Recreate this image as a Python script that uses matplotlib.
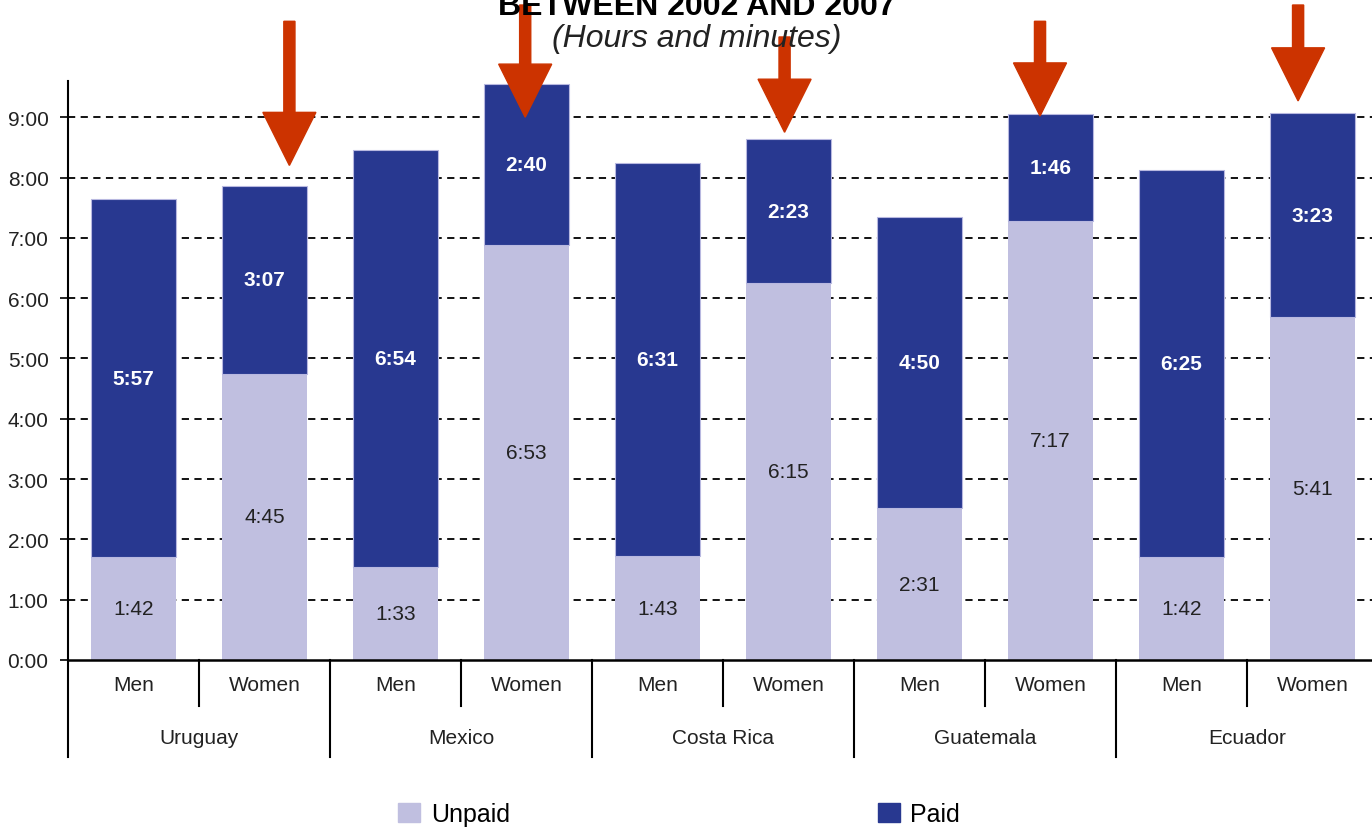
import matplotlib
matplotlib.use("Agg")
import matplotlib.pyplot as plt
import matplotlib.transforms as mtransforms
from matplotlib.patches import Patch
import numpy as np

plt.rcParams['font.family'] = ['Liberation Sans', 'DejaVu Sans']

countries = ['Uruguay', 'Mexico', 'Costa Rica', 'Guatemala', 'Ecuador']
sexes = ['Men', 'Women']

# hours:minutes, order = Men, Women for each country
unpaid = ['1:42', '4:45', '1:33', '6:53', '1:43', '6:15', '2:31', '7:17', '1:42', '5:41']
paid = ['5:57', '3:07', '6:54', '2:40', '6:31', '2:23', '4:50', '1:46', '6:25', '3:23']

y_ticks = ['0:00', '1:00', '2:00', '3:00', '4:00', '5:00', '6:00', '7:00', '8:00', '9:00']

# red arrows over the women bars: tip / tail height (hours) and x shift
arrow_tip = [8.20, 9.00, 8.75, 9.02, 9.27]
arrow_tail = [10.59, 10.86, 10.33, 10.59, 10.86]
arrow_dx = [0.19, -0.01, -0.03, -0.08, -0.11]

UNPAID_C = '#c0bfe0'
PAID_C = '#283890'
ARROW_C = '#cc3300'


def to_hours(s):
    h, m = s.split(':')
    return int(h) + int(m) / 60.0


unpaid_h = np.array([to_hours(s) for s in unpaid])
paid_h = np.array([to_hours(s) for s in paid])
x = np.arange(len(unpaid))

fig = plt.figure(figsize=(13.72, 8.28), dpi=100)
ax = fig.add_axes([68 / 1372, 167 / 828, 1310 / 1372, 579 / 828])

ax.bar(x, unpaid_h, width=0.65, color=UNPAID_C, zorder=2)
ax.bar(x, paid_h, bottom=unpaid_h, width=0.65, color=PAID_C,
       edgecolor='#b8b8e0', linewidth=0.8, zorder=2)

for xi, u, p, us, ps in zip(x, unpaid_h, paid_h, unpaid, paid):
    ax.text(xi, u / 2, us, ha='center', va='center', fontsize=15, color='#222222', zorder=3)
    ax.text(xi, u + p / 2, ps, ha='center', va='center', fontsize=15,
            color='white', fontweight='bold', zorder=3)

ax.set_xlim(-0.5, 9.5)
ax.set_ylim(0, 9.6)
ax.set_yticks(range(len(y_ticks)))
ax.set_yticklabels(y_ticks, fontsize=15, color='#222222')
ax.tick_params(axis='y', direction='out', length=6, width=1.2, pad=8)
ax.set_xticks([])
for yv in range(1, 10):
    ax.axhline(yv, color='black', linestyle=(0, (4, 3)), linewidth=1.3, zorder=1)

for s in ['top', 'right']:
    ax.spines[s].set_visible(False)
ax.spines['left'].set_linewidth(1.5)
ax.spines['bottom'].set_linewidth(1.8)

# two level category axis
trans = mtransforms.blended_transform_factory(ax.transData, ax.transAxes)
for i in range(len(countries)):
    ax.plot([2 * i - 0.5, 2 * i - 0.5], [0, -0.1675], color='black', lw=1.5,
            transform=trans, clip_on=False)
    ax.plot([2 * i + 0.5, 2 * i + 0.5], [0, -0.0794], color='black', lw=1.5,
            transform=trans, clip_on=False)
    ax.text(2 * i + 0.5, -0.133, countries[i], transform=trans, ha='center',
            va='center', fontsize=15, color='#222222')
    for j, sx in enumerate(sexes):
        ax.text(2 * i + j, -0.0415, sx, transform=trans, ha='center',
                va='center', fontsize=15, color='#222222')

# arrows
for i in range(len(countries)):
    xa = 2 * i + 1 + arrow_dx[i]
    ax.arrow(xa, arrow_tail[i], 0, arrow_tip[i] - arrow_tail[i], width=0.085,
             head_width=0.405, head_length=0.88, length_includes_head=True,
             color=ARROW_C, clip_on=False, zorder=5)

fig.text(0.508, 1 - 15 / 828, 'BETWEEN 2002 AND 2007', ha='center', va='baseline',
         fontsize=23, fontweight='bold')
fig.text(0.508, 1 - 47 / 828, '(Hours and minutes)', ha='center', va='baseline',
         fontsize=23, fontstyle='italic', color='#222222')

handles = [Patch(color=UNPAID_C, label='Unpaid'), Patch(color=PAID_C, label='Paid')]
fig.legend(handles=handles, loc='center left', bbox_to_anchor=(398 / 1372, 13 / 828),
           ncol=2, frameon=False, fontsize=18, handlelength=0.88, handleheight=0.8,
           handletextpad=0.44, columnspacing=14.7, borderpad=0, borderaxespad=0)

fig.savefig('out.png', dpi=100)
